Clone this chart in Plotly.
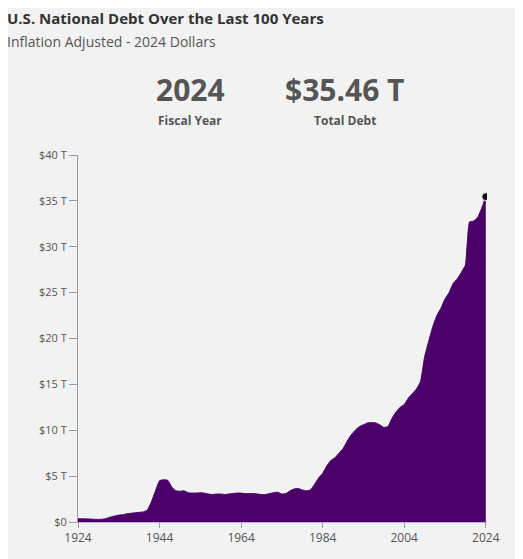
import plotly.graph_objects as go

years = list(range(1924, 2025))
debt = [0.35,0.35,0.34,0.33,0.3,0.28,0.3,0.4,0.55,0.65,0.75,0.8,0.9,0.95,1.0,1.05,1.1,1.3,2.2,3.4,4.5,4.6,4.55,3.8,3.4,3.35,
        3.4,3.2,3.15,3.15,3.2,3.15,3.05,3.0,3.05,3.05,3.0,3.05,3.1,3.15,3.15,3.1,3.1,3.1,3.05,3.0,
        3.0,3.1,3.2,3.25,3.05,3.1,3.4,3.6,3.65,3.5,3.4,3.5,4.1,4.8,5.3,6.1,6.7,7.0,7.5,8.0,
        8.8,9.5,10.0,10.4,10.6,10.8,10.85,10.8,10.6,10.3,10.4,11.3,12.0,12.5,12.8,13.5,14.0,14.5,15.3,18.0,
        19.7,21.3,22.5,23.3,24.3,25.0,26.0,26.5,27.2,28.0,32.7,32.8,33.2,34.2,35.46]
ytickvals = [0,5,10,15,20,25,30,35,40]
yticktext = ["$0","$5 T","$10 T","$15 T","$20 T","$25 T","$30 T","$35 T","$40 T"]
xtickvals = [1924,1944,1964,1984,2004,2024]

OFF = 8  # page body margin
W, H = 523 - OFF, 559 - OFF
L, R, T, B = 78 - OFF, 36, 155 - OFF, 37
PW, PH = W - L - R, H - T - B

def px(x, y):
    # target-screenshot pixel -> paper coords
    return ((x - OFF) - L) / PW, 1 - ((y - OFF) - T) / PH

fig = go.Figure()
fig.add_trace(go.Scatter(x=years, y=debt, mode="lines", fill="tozeroy",
                         line=dict(color="#4b0069", width=1, shape="spline", smoothing=0.4),
                         fillcolor="#4b0069", hoverinfo="skip"))
fig.add_trace(go.Scatter(x=[years[-1]], y=[debt[-1]], mode="markers",
                         marker=dict(color="#111", size=8, line=dict(color="#eee", width=1))))
grey = "#555"
anns = [
    ("<b>U.S. National Debt Over the Last 100 Years</b>", 5, 18, "left", 15, "#333"),
    ("Inflation Adjusted - 2024 Dollars", 5, 41, "left", 14, grey),
    ("<b>2024</b>", 190, 90, "center", 30, grey),
    ("<b>Fiscal Year</b>", 190, 121, "center", 12, grey),
    ("<b>$35.46 T</b>", 345, 90, "center", 30, grey),
    ("<b>Total Debt</b>", 345, 121, "center", 12, grey),
]
annotations = []
for text, x, y, xa, size, col in anns:
    ax, ay = px(x, y)
    annotations.append(dict(text=text, x=ax, y=ay, xref="paper", yref="paper", showarrow=False,
                            xanchor=xa, yanchor="middle", font=dict(size=size, color=col)))
fig.update_layout(
    width=W, height=H, showlegend=False,
    paper_bgcolor="#f2f2f2", plot_bgcolor="#f2f2f2",
    margin=dict(l=L, r=R, t=T, b=B),
    font=dict(family="Open Sans, Lato, sans-serif", color=grey, size=11),
    xaxis=dict(range=[1924, 2024.3], tickvals=xtickvals, ticks="outside", ticklen=5, tickcolor="#999",
               showgrid=False, zeroline=False, showline=True, linecolor="#c9a0e0",
               tickfont=dict(size=12, color=grey)),
    yaxis=dict(range=[0, 40], tickvals=ytickvals, ticktext=yticktext, ticks="outside", ticklen=8,
               tickcolor="#999", showgrid=False, zeroline=False, showline=True, linecolor="#999",
               tickfont=dict(size=11, color=grey)),
    annotations=annotations,
)
fig.write_html("out.html")
